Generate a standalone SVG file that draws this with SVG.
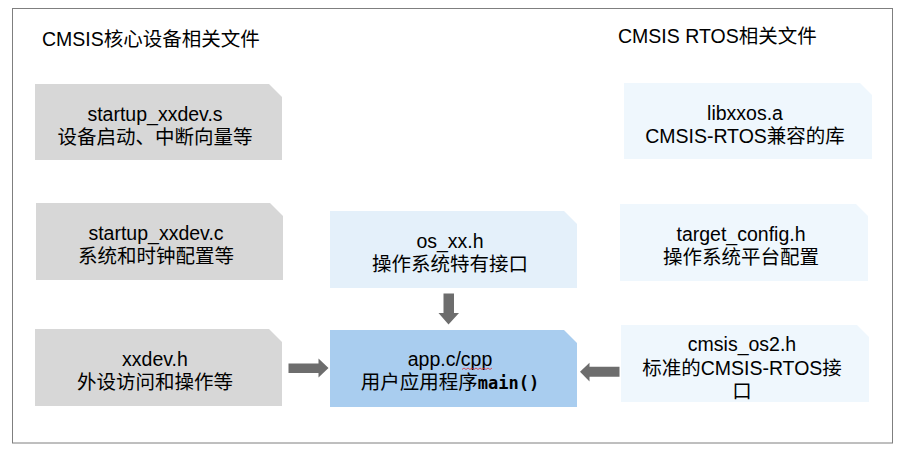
<svg xmlns="http://www.w3.org/2000/svg" width="903" height="453" viewBox="0 0 903 453">
<style>
text{font-family:"Liberation Sans","Noto Sans CJK SC",sans-serif;font-size:19.5px;fill:#000}
.t{text-anchor:middle}
.grey{fill:#d7d7d7}
.lb{fill:#e4f0fa}
.xb{fill:#eff7fd}
.ab{fill:#a9cdef}
.arr{fill:#6d6d6d}
.mono{font-family:"DejaVu Sans Mono","Liberation Mono",monospace;font-weight:bold;font-size:17px}
</style>
<rect x="0" y="0" width="903" height="453" fill="#fff"/>
<rect x="12.5" y="8.5" width="880" height="434.5" fill="none" stroke="#7f7f7f" stroke-width="1"/>
<g id="title-left"><text x="42" y="45.5">CMSIS核心设备相关文件</text></g>
<g id="title-right"><text x="618" y="42.5">CMSIS RTOS相关文件</text></g>

<g id="startup_s">
<polygon class="grey" points="35,84 269,84 282,97 282,160 35,160"/>
<text class="t" x="155" y="121">startup_xxdev.s</text>
<text class="t" x="155" y="144">设备启动、中断向量等</text>
</g>
<g id="startup_c">
<polygon class="grey" points="36,203 270,203 283,216 283,280 36,280"/>
<text class="t" x="156" y="240">startup_xxdev.c</text>
<text class="t" x="156" y="263">系统和时钟配置等</text>
</g>
<g id="xxdev_h">
<polygon class="grey" points="35,329 269,329 282,342 282,406 35,406"/>
<text class="t" x="155" y="366">xxdev.h</text>
<text class="t" x="155" y="389">外设访问和操作等</text>
</g>
<g id="os_xx_h">
<polygon class="lb" points="330,211 564,211 577,224 577,288 330,288"/>
<text class="t" x="450" y="248">os_xx.h</text>
<text class="t" x="450" y="271">操作系统特有接口</text>
</g>
<g id="app">
<polygon class="ab" points="330,330 564,330 577,343 577,407 330,407"/>
<text class="t" x="450" y="366">app.c/cpp</text>
<text class="t" x="450" y="389">用户应用程序<tspan class="mono">main()</tspan></text>
<path d="M462,369.5 l2,-1.5 l2,1.5 l2,-1.5 l2,1.5 l2,-1.5 l2,1.5 l2,-1.5 l2,1.5 l2,-1.5 l2,1.5 l2,-1.5 l2,1.5 l2,-1.5 l2,1.5 l2,-1.5" fill="none" stroke="#e03030" stroke-width="0.8"/>
</g>
<g id="libxxos">
<polygon class="xb" points="624,83 860,83 872,95 872,159 624,159"/>
<text class="t" x="745" y="120">libxxos.a</text>
<text class="t" x="745" y="143">CMSIS-RTOS兼容的库</text>
</g>
<g id="target_config">
<polygon class="xb" points="620,204 856,204 868,216 868,281 620,281"/>
<text class="t" x="741" y="241">target_config.h</text>
<text class="t" x="741" y="264">操作系统平台配置</text>
</g>
<g id="cmsis_os2">
<polygon class="xb" points="621,325 857,325 869,337 869,402 621,402"/>
<text class="t" x="742" y="351">cmsis_os2.h</text>
<text class="t" x="742" y="374.5">标准的CMSIS-RTOS接</text>
<text class="t" x="742" y="397.5">口</text>
</g>

<g id="connectors">
<polygon class="arr" points="443.5,293.5 454,293.5 454,313 459,313 448.5,324.5 438.5,313 443.5,313"/>
<polygon class="arr" points="288.5,363.5 318.5,363.5 318.5,358.5 328.5,368 318.5,377.5 318.5,373 288.5,373"/>
<polygon class="arr" points="619.5,366.7 589.5,366.7 589.5,362.7 580,371.7 589.5,381.5 589.5,376.7 619.5,376.7"/>
</g>
</svg>
